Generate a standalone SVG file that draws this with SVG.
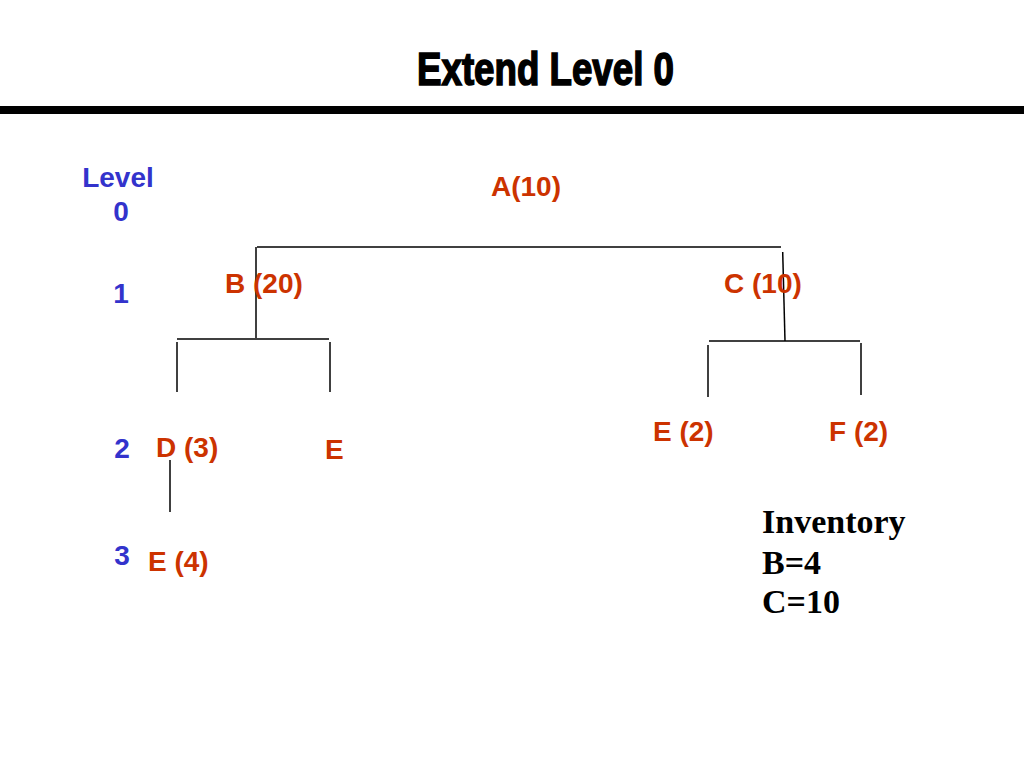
<svg xmlns="http://www.w3.org/2000/svg" width="1024" height="768" viewBox="0 0 1024 768">
<style>
.lbl{font-family:"Liberation Sans",Arial,sans-serif;font-weight:bold;font-size:28px}
.lv{fill:#3333CC}
.nd{fill:#CC3300}
.inv{font-family:"Liberation Serif","Times New Roman",serif;font-weight:bold;font-size:34px;fill:#000}
.ln{stroke:#000;stroke-width:1.5;fill:none}
</style>
<rect width="1024" height="768" fill="#fff"/>
<g id="title">
<text x="417" y="85" font-family="Liberation Sans, Arial, sans-serif" font-weight="bold" font-size="46" textLength="257" lengthAdjust="spacingAndGlyphs" fill="#000" stroke="#000" stroke-width="1.6">Extend Level 0</text>
<rect x="0" y="106" width="1024" height="8" fill="#000"/>
</g>
<g id="levels" class="lbl lv" text-anchor="middle">
<text x="118" y="187">Level</text>
<text x="121" y="221">0</text>
<text x="121" y="303">1</text>
<text x="122" y="458">2</text>
<text x="122" y="565">3</text>
</g>
<g id="connectors" class="ln">
<line x1="257" y1="247" x2="781" y2="247"/>
<line x1="256" y1="247" x2="256" y2="338"/>
<line x1="177" y1="339" x2="329" y2="339"/>
<line x1="177" y1="342" x2="177" y2="392"/>
<line x1="330" y1="342" x2="330" y2="392"/>
<line x1="782.7" y1="252" x2="785" y2="341"/>
<line x1="709" y1="341" x2="860" y2="341"/>
<line x1="708" y1="345" x2="708" y2="397"/>
<line x1="861" y1="343" x2="861" y2="395"/>
<line x1="170" y1="460" x2="170" y2="512"/>
</g>
<g id="nodeA"><text class="lbl nd" x="491" y="196">A(10)</text></g>
<g id="nodeB"><text class="lbl nd" x="225" y="293">B (20)</text></g>
<g id="nodeC"><text class="lbl nd" x="724" y="293">C (10)</text></g>
<g id="nodeD"><text class="lbl nd" x="156" y="457">D (3)</text></g>
<g id="nodeE1"><text class="lbl nd" x="325" y="459">E</text></g>
<g id="nodeE2"><text class="lbl nd" x="653" y="441">E (2)</text></g>
<g id="nodeF"><text class="lbl nd" x="829" y="441">F (2)</text></g>
<g id="nodeE4"><text class="lbl nd" x="148" y="571">E (4)</text></g>
<g id="inventory" class="inv">
<text x="762" y="533">Inventory</text>
<text x="762" y="574">B=4</text>
<text x="762" y="613">C=10</text>
</g>
</svg>
